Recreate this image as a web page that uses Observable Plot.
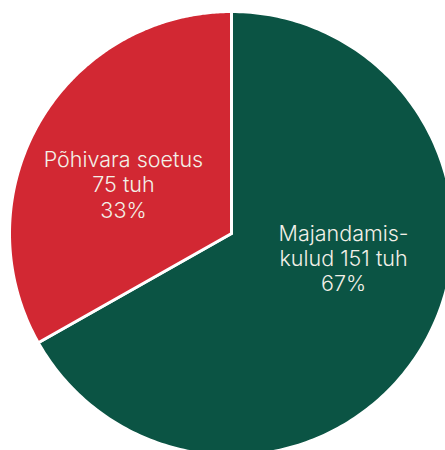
<!DOCTYPE html>
<html>
<head>
<meta charset="utf-8">
<script src="https://cdn.jsdelivr.net/npm/d3@7"></script>
<script src="https://cdn.jsdelivr.net/npm/@observablehq/plot@0.6"></script>
<style>
  html, body { margin: 0; padding: 0; background: #ffffff; }
  #chart svg { overflow: hidden; }
</style>
</head>
<body>
<div id="chart"></div>
<script>
// Data
const categories = ["Majandamiskulud", "Põhivara soetus"];
const labels = ["Majandamis-\nkulud 151 tuh\n67%", "Põhivara soetus\n75 tuh\n33%"];
const values = [151, 75];
const colors = ["#0b5444", "#d22833"];

const W = 445, H = 450;
const cx = 231, cy = 233, R = 222;

// pie angles (clockwise from 12 o'clock)
const pie = d3.pie().sort(null).value(d => d.value);
const arcs = pie(categories.map((c, i) => ({category: c, value: values[i], label: labels[i]})));

// polygon points for each slice in unit coordinates
const pts = [];
arcs.forEach(a => {
  const n = 240;
  pts.push({category: a.data.category, x: 0, y: 0});
  for (let k = 0; k <= n; k++) {
    const t = a.startAngle + (a.endAngle - a.startAngle) * k / n;
    pts.push({category: a.data.category, x: Math.sin(t), y: Math.cos(t)});
  }
  pts.push({category: a.data.category, x: 0, y: 0});
});

const labelR = 0.6;
const labelPts = arcs.map(a => {
  const m = (a.startAngle + a.endAngle) / 2;
  return {category: a.data.category, label: a.data.label, x: labelR * Math.sin(m), y: labelR * Math.cos(m)};
});

const textStyle = {x: "x", y: "y", text: "label", fill: "#f3f0e8", fontSize: 21.5, fontWeight: 300, lineHeight: 1.17, textAnchor: "middle"};

const chart = Plot.plot({
  width: W,
  height: H,
  margin: 0,
  x: {domain: [-cx / R, (W - cx) / R], axis: null},
  y: {domain: [(cy - H) / R, cy / R], axis: null},
  color: {domain: categories, range: colors},
  style: {fontFamily: "Inter, sans-serif", background: "#ffffff"},
  marks: [
    Plot.line(pts, {x: "x", y: "y", z: "category", fill: "category", stroke: "#ffffff", strokeWidth: 3, strokeLinejoin: "round", curve: "linear"}),
    Plot.text(labelPts.filter(d => d.category === "Põhivara soetus"), {...textStyle, dx: 7, dy: 18}),
    Plot.text(labelPts.filter(d => d.category === "Majandamiskulud"), {...textStyle, dx: -3, dy: -43})
  ]
});
document.getElementById("chart").appendChild(chart);
</script>
</body>
</html>
